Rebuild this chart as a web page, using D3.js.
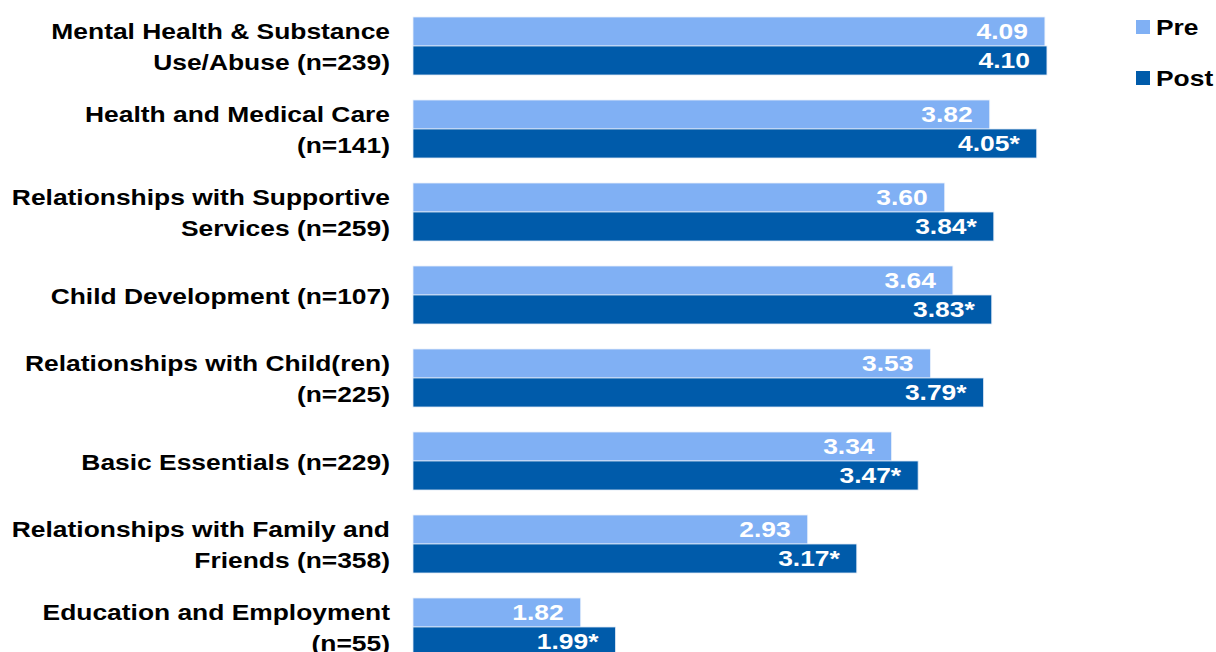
<!DOCTYPE html>
<html>
<head>
<meta charset="utf-8">
<script src="https://cdn.jsdelivr.net/npm/d3@7"></script>
<style>
  body { margin: 0; background: #fff; }
  text { font-family: "Liberation Sans", Arial, sans-serif; font-weight: bold; }
</style>
</head>
<body>
<div id="chart"></div>
<script>
// data
var categories = [
  ["Mental Health & Substance", "Use/Abuse (n=239)"],
  ["Health and Medical Care", "(n=141)"],
  ["Relationships with Supportive", "Services (n=259)"],
  ["Child Development (n=107)"],
  ["Relationships with Child(ren)", "(n=225)"],
  ["Basic Essentials (n=229)"],
  ["Relationships with Family and", "Friends (n=358)"],
  ["Education and Employment", "(n=55)"]
];
var preValues = [4.09, 3.82, 3.60, 3.64, 3.53, 3.34, 2.93, 1.82];
var postValues = [4.10, 4.05, 3.84, 3.83, 3.79, 3.47, 3.17, 1.99];
var postSignificant = [false, true, true, true, true, true, true, true];
var seriesNames = ["Pre", "Post"];

var svgWidth = 1216;
var svgHeight = 652;
var preColor = "#80b0f4";
var postColor = "#005baa";
var stretch = 1.2; // the text in the original is drawn wide

var svg = d3.select("#chart")
  .append("svg")
  .attr("width", svgWidth)
  .attr("height", svgHeight);

// value 1 sits at the bar baseline
var x = d3.scaleLinear().domain([1, 5]).range([413, 1231]);
var y = d3.scaleBand()
  .domain(d3.range(categories.length))
  .range([17, 17 + 83 * 7 + 58])
  .paddingInner(25 / 83)
  .paddingOuter(0);

var barH = y.bandwidth() / 2;

var groups = svg.selectAll("g.cat")
  .data(categories)
  .enter()
  .append("g")
  .attr("class", "cat")
  .attr("transform", (d, i) => `translate(0, ${y(i)})`);

// pre bars
groups.append("rect")
  .attr("x", x(1))
  .attr("y", 0)
  .attr("width", (d, i) => x(preValues[i]) - x(1))
  .attr("height", barH)
  .attr("fill", preColor)
  .attr("stroke", "#e8f0fb")
  .attr("stroke-width", 0.8);

// post bars
groups.append("rect")
  .attr("x", x(1))
  .attr("y", barH)
  .attr("width", (d, i) => x(postValues[i]) - x(1))
  .attr("height", barH)
  .attr("fill", postColor)
  .attr("stroke", "#dfe8f5")
  .attr("stroke-width", 0.8);

// value labels
groups.append("text")
  .attr("transform", (d, i) => `translate(${x(preValues[i]) - 17}, ${barH / 2}) scale(${stretch}, 1)`)
  .attr("dy", "0.36em")
  .attr("text-anchor", "end")
  .attr("fill", "#fff")
  .style("font-size", "22px")
  .text((d, i) => preValues[i].toFixed(2));

groups.append("text")
  .attr("transform", (d, i) => `translate(${x(postValues[i]) - 17}, ${barH * 1.5}) scale(${stretch}, 1)`)
  .attr("dy", "0.36em")
  .attr("text-anchor", "end")
  .attr("fill", "#fff")
  .style("font-size", "22px")
  .text((d, i) => postValues[i].toFixed(2) + (postSignificant[i] ? "*" : ""));

// category labels, right aligned
var labels = groups.append("text")
  .attr("transform", `translate(390, 0) scale(${stretch}, 1)`)
  .attr("text-anchor", "end")
  .attr("fill", "#000")
  .style("font-size", "22px");

labels.each(function(lines) {
  var t = d3.select(this);
  var lineH = 31;
  var start = barH + 1 - (lines.length - 1) * lineH / 2;
  lines.forEach(function(line, k) {
    t.append("tspan")
      .attr("x", 0)
      .attr("y", start + k * lineH)
      .attr("dy", "0.36em")
      .text(line);
  });
});

// legend
var legend = svg.selectAll("g.legend")
  .data(seriesNames)
  .enter()
  .append("g")
  .attr("class", "legend")
  .attr("transform", (d, i) => `translate(1136, ${20 + i * 51})`);

legend.append("rect")
  .attr("width", 14)
  .attr("height", 14)
  .attr("fill", (d, i) => i === 0 ? preColor : postColor);

legend.append("text")
  .attr("transform", `translate(20, 7) scale(${stretch}, 1)`)
  .attr("dy", "0.36em")
  .style("font-size", "22px")
  .attr("fill", "#000")
  .text(d => d);
</script>
</body>
</html>
